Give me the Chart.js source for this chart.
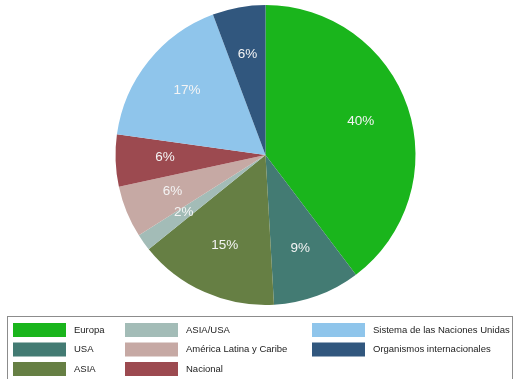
<!DOCTYPE html>
<html>
<head>
<meta charset="utf-8">
<script src="https://cdn.jsdelivr.net/npm/chart.js@4"></script>
<style>
  html, body { margin: 0; padding: 0; background: #fff; }
  #wrap { width: 515px; height: 379px; }
</style>
</head>
<body>
<div id="wrap"><canvas id="chart"></canvas></div>
<script>
const categories = [
  'Europa', 'USA', 'ASIA', 'ASIA/USA', 'América Latina y Caribe',
  'Nacional', 'Sistema de las Naciones Unidas', 'Organismos internacionales'
];
const shares = [39.7, 9.4, 15.1, 1.8, 5.6, 5.6, 17.1, 5.7];
const colors = [
  '#1ab51c', '#437b73', '#667f44', '#a3bcb7',
  '#c6a9a4', '#9c4a50', '#8fc5eb', '#31577e'
];

// percent labels inside each slice
const sliceLabels = {
  id: 'sliceLabels',
  afterDatasetsDraw(chart) {
    const ctx = chart.ctx;
    const meta = chart.getDatasetMeta(0);
    const total = shares.reduce((a, b) => a + b, 0);
    ctx.save();
    ctx.fillStyle = '#f4f4f4';
    ctx.font = '13.5px "Liberation Sans", Arial, sans-serif';
    ctx.textAlign = 'center';
    ctx.textBaseline = 'middle';
    meta.data.forEach((arc, i) => {
      const mid = (arc.startAngle + arc.endAngle) / 2;
      const r = arc.outerRadius * 0.67;
      const x = arc.x + Math.cos(mid) * r;
      const y = arc.y + Math.sin(mid) * r - 1.5;
      ctx.fillText(Math.round(shares[i] / total * 100) + '%', x, y);
    });
    ctx.restore();
  }
};

// boxed legend, three columns filled top to bottom
const boxLegend = {
  id: 'boxLegend',
  afterDraw(chart) {
    const ctx = chart.ctx;
    const colX = [13, 125, 312];
    const rowY = [323, 342.5, 362];
    ctx.save();
    ctx.strokeStyle = '#8c8c8c';
    ctx.lineWidth = 1;
    ctx.strokeRect(7.5, 316.5, 505, 80);
    ctx.font = '9.5px "Liberation Sans", Arial, sans-serif';
    ctx.textBaseline = 'middle';
    ctx.textAlign = 'left';
    categories.forEach((name, i) => {
      const col = Math.floor(i / 3);
      const row = i % 3;
      const x = colX[col];
      const y = rowY[row];
      ctx.fillStyle = colors[i];
      ctx.fillRect(x, y, 53, 14);
      ctx.fillStyle = '#222';
      ctx.fillText(name, x + 61, y + 7);
    });
    ctx.restore();
  }
};

new Chart(document.getElementById('chart'), {
  type: 'pie',
  data: {
    labels: categories,
    datasets: [{
      data: shares,
      backgroundColor: colors,
      borderColor: colors,
      borderWidth: 0
    }]
  },
  options: {
    responsive: true,
    maintainAspectRatio: false,
    animation: false,
    layout: { padding: { top: 5, bottom: 74, left: 16, right: 0 } },
    plugins: {
      legend: { display: false },
      tooltip: { enabled: false }
    }
  },
  plugins: [sliceLabels, boxLegend]
});
</script>
</body>
</html>
